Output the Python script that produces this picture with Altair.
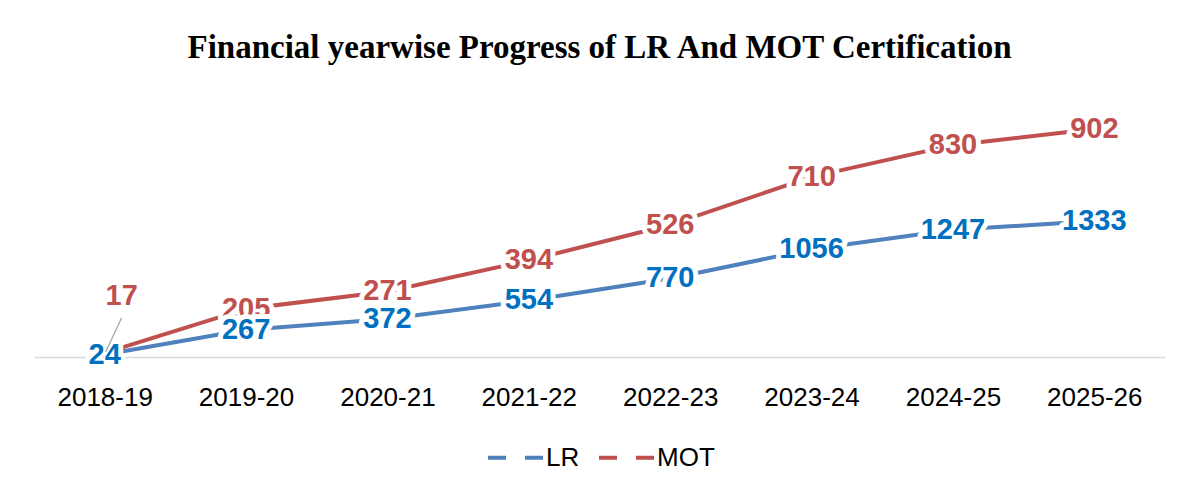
import altair as alt
import pandas as pd

years = ["2018-19", "2019-20", "2020-21", "2021-22", "2022-23", "2023-24", "2024-25", "2025-26"]
lr_values = [24, 267, 372, 554, 770, 1056, 1247, 1333]
mot_values = [17, 205, 271, 394, 526, 710, 830, 902]
series_names = ["LR", "MOT"]
line_colors = ["#4F81BD", "#C0504D"]
label_colors = ["#0070C0", "#C0504D"]

rows = []
for i, y in enumerate(years):
    rows.append({"year": y, "series": "LR", "order": 0, "value": lr_values[i]})
    rows.append({"year": y, "series": "MOT", "order": 1, "value": mot_values[i]})
df = pd.DataFrame(rows)

FONT = "Liberation Sans"

base = alt.Chart(df).transform_stack(
    stack="value", groupby=["year"], as_=["y0", "y1"],
    sort=[alt.SortField("order", order="ascending")]
)

xenc = alt.X("year:O", sort=years,
             scale=alt.Scale(type="point", padding=0.5),
             axis=alt.Axis(title=None, labelAngle=0, ticks=False,
                           domainColor="#D9D9D9", domainWidth=1.5,
                           labelFont=FONT, labelFontSize=26, labelColor="#000000",
                           labelPadding=27))
yenc = alt.Y("y1:Q", scale=alt.Scale(domain=[0, 2500], nice=False, zero=True), axis=None)

color = alt.Color("series:N", sort=series_names,
                  scale=alt.Scale(domain=series_names, range=line_colors),
                  legend=alt.Legend(title=None, orient="none", direction="horizontal",
                                    legendX=452, legendY=326,
                                    symbolType="stroke", symbolSize=3025,
                                    symbolStrokeWidth=4, symbolDash=[18, 19],
                                    labelFont=FONT, labelFontSize=26, labelColor="#000000",
                                    labelOffset=1, columnPadding=11, padding=0))

lines = base.mark_line(strokeWidth=4, strokeCap="round").encode(
    x=xenc, y=yenc, color=color, detail="series:N")

def labels(series, col):
    filt = (alt.datum.series == series) & ~((alt.datum.series == "MOT") & (alt.datum.year == "2018-19"))
    halo = base.transform_filter(filt).mark_text(
        fontSize=29, fontWeight="bold", font=FONT, color="white",
        stroke="white", strokeWidth=10, strokeJoin="round", baseline="middle"
    ).encode(x=alt.X("year:O", sort=years), y="y1:Q", text="value:Q")
    txt = base.transform_filter(filt).mark_text(
        fontSize=29, fontWeight="bold", font=FONT, color=col, baseline="middle"
    ).encode(x=alt.X("year:O", sort=years), y="y1:Q", text="value:Q")
    return [halo, txt]

first_mot = (alt.datum.series == "MOT") & (alt.datum.year == "2018-19")
mot17 = base.transform_filter(first_mot).mark_text(
    fontSize=29, fontWeight="bold", font=FONT, color=label_colors[1], baseline="middle",
    dx=17, dy=-57
).encode(x=alt.X("year:O", sort=years), y="y1:Q", text="value:Q")

leader = base.transform_filter(first_mot).mark_rule(
    color="#A6A6A6", strokeWidth=1.3, x2Offset=17, y2Offset=-35, xOffset=1, yOffset=-1
).encode(x=alt.X("year:O", sort=years), y="y1:Q",
         x2=alt.X2("year"), y2=alt.Y2("y1"))

layers = [lines] + labels("MOT", label_colors[1]) + labels("LR", label_colors[0]) + [mot17, leader]

chart = alt.layer(*layers).properties(
    width=1131, height=255,
    title=alt.Title("Financial yearwise Progress of LR And MOT Certification",
                    font="Liberation Serif", fontSize=33, fontWeight="bold",
                    color="#000000", anchor="middle", offset=37),
    autosize=alt.AutoSizeParams(type="none"),
    padding={"left": 26, "top": 94, "right": 10, "bottom": 130},
    background="white",
).configure_view(strokeWidth=0, stroke=None)

chart.save("out.html", embed_options={"renderer": "svg", "actions": False})
